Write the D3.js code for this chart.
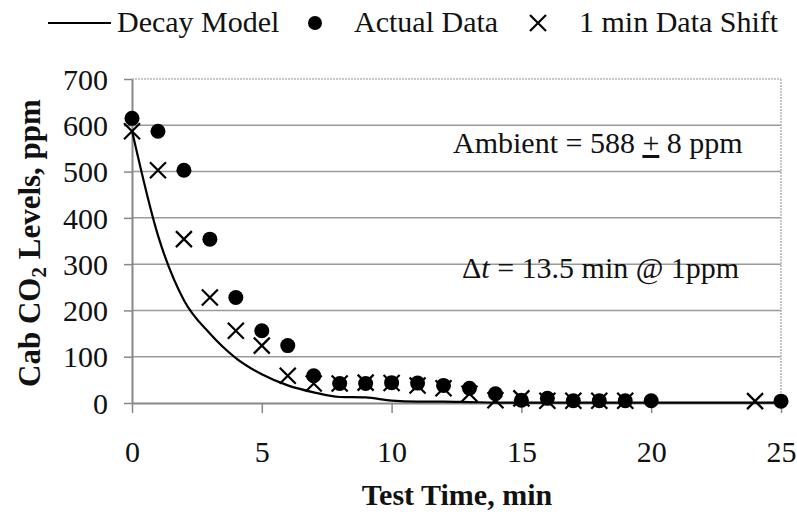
<!DOCTYPE html>
<html>
<head>
<meta charset="utf-8">
<script src="https://cdn.jsdelivr.net/npm/d3@7"></script>
<style>
  body { margin: 0; background: #fff; }
</style>
</head>
<body>
<div id="chart"></div>
<script>
var svgWidth = 797;
var svgHeight = 514;
var serif = '"Liberation Serif"';

// data (minutes / ppm)
var decayTime = [0, 1, 2, 3, 4, 5, 6, 7, 8, 9, 10, 11, 12, 13, 14, 15, 16, 17, 18, 19, 20, 21, 22, 23, 24, 25];
var decayPpm = [588, 362, 222, 150, 97, 62, 38, 23, 13, 12, 5, 3, 3, 2, 1, 1, 1, 1, 1, 1, 1, 1, 1, 1, 1, 1];

var actualTime = [0, 1, 2, 3, 4, 5, 6, 7, 8, 9, 10, 11, 12, 13, 14, 15, 16, 17, 18, 19, 20, 25];
var actualPpm = [615, 587, 503, 354, 228, 156, 124, 59, 42, 42, 44, 43, 38, 32, 20, 6, 10, 5, 5, 5, 5, 4];

var shiftTime = [0, 1, 2, 3, 4, 5, 6, 7, 8, 9, 10, 11, 12, 13, 14, 15, 16, 17, 18, 19, 24];
var shiftPpm = [587, 503, 354, 228, 156, 124, 59, 42, 42, 44, 43, 38, 32, 20, 6, 10, 5, 5, 5, 5, 4];

var xTicks = [0, 5, 10, 15, 20, 25];
var yTicks = [0, 100, 200, 300, 400, 500, 600, 700];

// plot area
var margin = { top: 79, right: 16, bottom: 111, left: 132 };
var width = svgWidth - margin.left - margin.right;
var height = svgHeight - margin.top - margin.bottom;

var svg = d3.select("#chart")
  .append("svg")
  .attr("width", svgWidth)
  .attr("height", svgHeight)
  .attr("font-family", serif);

var chart = svg.append("g")
  .attr("transform", `translate(${margin.left}, ${margin.top})`);

var x = d3.scaleLinear().domain([0, 25]).range([0, width]);
var y = d3.scaleLinear().domain([0, 700]).range([height, 0]);

// gridlines
chart.append("g")
  .selectAll("line")
  .data(yTicks.filter(d => d > 0 && d < 700))
  .enter().append("line")
  .attr("x1", 0).attr("x2", width)
  .attr("y1", d => y(d)).attr("y2", d => y(d))
  .attr("stroke", "#9a9a9a").attr("stroke-width", 1.5);

// dotted top / right border
chart.append("line")
  .attr("x1", 0).attr("x2", width).attr("y1", y(700)).attr("y2", y(700))
  .attr("stroke", "#b5b5b5").attr("stroke-width", 1.5).attr("stroke-dasharray", "2,1");
chart.append("line")
  .attr("x1", x(25)).attr("x2", x(25)).attr("y1", y(700)).attr("y2", y(0))
  .attr("stroke", "#b5b5b5").attr("stroke-width", 1.5).attr("stroke-dasharray", "2,1");

// axes
var bottomAxis = d3.axisBottom(x).tickValues(xTicks).tickSize(10).tickPadding(28).tickSizeOuter(0);
var leftAxis = d3.axisLeft(y).tickValues(yTicks).tickSize(8).tickPadding(16).tickSizeOuter(0);

var xg = chart.append("g")
  .attr("transform", `translate(0, ${height})`)
  .call(bottomAxis);
var yg = chart.append("g").call(leftAxis);

[xg, yg].forEach(function(g) {
  g.attr("font-family", serif).attr("font-size", 30);
  g.select(".domain").attr("stroke", "#888").attr("stroke-width", 2);
  g.selectAll(".tick line").attr("stroke", "#888").attr("stroke-width", 1.5);
  g.selectAll(".tick text")
    .attr("font-family", serif)
    .attr("font-size", 30)
    .attr("fill", "#111");
});
yg.selectAll(".tick text").attr("dy", "0.34em");

// decay model line
var decayData = decayTime.map((t, i) => ({ t: t, v: decayPpm[i] }));
chart.append("path")
  .datum(decayData)
  .attr("fill", "none")
  .attr("stroke", "#000")
  .attr("stroke-width", 2.2)
  .attr("d", d3.line().x(d => x(d.t)).y(d => y(d.v)).curve(d3.curveMonotoneX));

// actual data dots
var actualData = actualTime.map((t, i) => ({ t: t, v: actualPpm[i] }));
chart.append("g")
  .selectAll("circle")
  .data(actualData)
  .enter().append("circle")
  .attr("cx", d => x(d.t))
  .attr("cy", d => y(d.v))
  .attr("r", 7.5)
  .attr("fill", "#000");

// shifted data crosses
var shiftData = shiftTime.map((t, i) => ({ t: t, v: shiftPpm[i] }));
var crossSize = 8;
chart.append("g")
  .selectAll("path")
  .data(shiftData)
  .enter().append("path")
  .attr("transform", d => `translate(${x(d.t)}, ${y(d.v)})`)
  .attr("d", `M${-crossSize},${-crossSize}L${crossSize},${crossSize}M${-crossSize},${crossSize}L${crossSize},${-crossSize}`)
  .attr("stroke", "#000")
  .attr("stroke-width", 2.2)
  .attr("fill", "none");

// annotations
var amb = svg.append("text")
  .attr("x", 453).attr("y", 153)
  .attr("font-family", serif)
  .attr("font-size", 30)
  .attr("fill", "#111");
amb.append("tspan").text("Ambient = 588 ");
amb.append("tspan").attr("text-decoration", "underline").text("+");
amb.append("tspan").text(" 8 ppm");

var dt = svg.append("text")
  .attr("x", 462).attr("y", 278)
  .attr("font-family", serif)
  .attr("font-size", 30)
  .attr("fill", "#111");
dt.append("tspan").text("\u0394");
dt.append("tspan").attr("font-style", "italic").text("t");
dt.append("tspan").text(" = 13.5 min @ 1ppm");

// axis titles
svg.append("text")
  .attr("x", 457).attr("y", 505)
  .attr("text-anchor", "middle")
  .attr("font-family", serif)
  .attr("font-size", 30)
  .attr("font-weight", "bold")
  .attr("fill", "#111")
  .text("Test Time, min");

var yt = svg.append("text")
  .attr("transform", "translate(40, 243) rotate(-90)")
  .attr("text-anchor", "middle")
  .attr("font-family", serif)
  .attr("font-size", 31)
  .attr("font-weight", "bold")
  .attr("fill", "#111");
yt.append("tspan").text("Cab CO");
yt.append("tspan").attr("font-size", 21).attr("dy", 6).text("2");
yt.append("tspan").attr("dy", -6).text(" Levels, ppm");

// legend
var legend = svg.append("g").attr("font-family", serif).attr("font-size", 30).attr("fill", "#111");
legend.append("line")
  .attr("x1", 48).attr("x2", 111).attr("y1", 23).attr("y2", 23)
  .attr("stroke", "#000").attr("stroke-width", 2.2);
legend.append("text").attr("x", 117).attr("y", 32).text("Decay Model");
legend.append("circle").attr("cx", 315).attr("cy", 23).attr("r", 7).attr("fill", "#000");
legend.append("text").attr("x", 354).attr("y", 32).text("Actual Data");
legend.append("path")
  .attr("transform", "translate(538, 23)")
  .attr("d", `M-8,-8L8,8M-8,8L8,-8`)
  .attr("stroke", "#000").attr("stroke-width", 2.2);
legend.append("text").attr("x", 579).attr("y", 32).text("1 min Data Shift");
</script>
</body>
</html>
